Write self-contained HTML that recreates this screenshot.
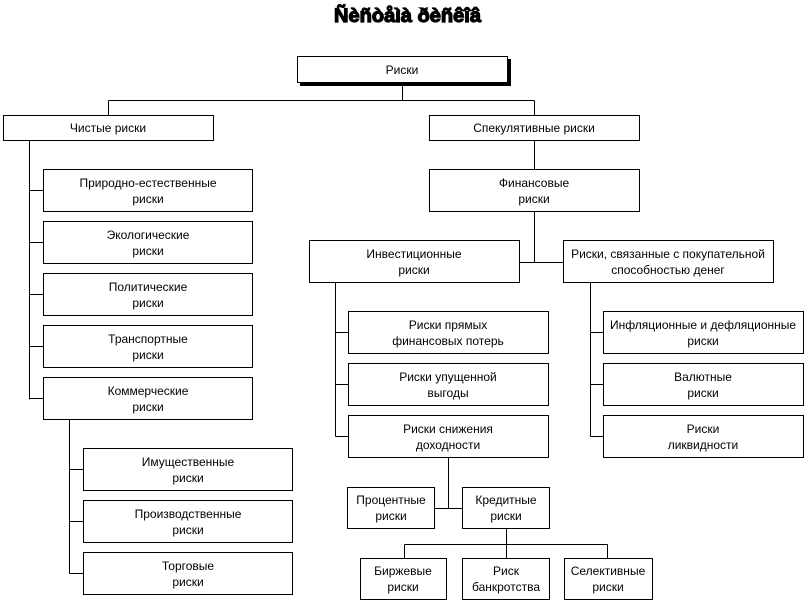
<!DOCTYPE html>
<html><head><meta charset="utf-8"><style>
html,body{margin:0;padding:0;background:#fff;}
svg{display:block;}
text{font-family:"Liberation Sans",Arial,sans-serif;font-size:12px;fill:#000;text-anchor:middle;}
rect{fill:#fff;stroke:#000;stroke-width:1;}
line{stroke:#000;stroke-width:1;}
</style></head><body>
<svg width="806" height="603" viewBox="0 0 806 603" xmlns="http://www.w3.org/2000/svg">
<text x="334" y="22" textLength="147" lengthAdjust="spacingAndGlyphs" style="font-size:19px;font-weight:bold;text-anchor:start;stroke:#000;stroke-width:1.2">Ñèñòåìà ðèñêîâ</text>
<g>
<line x1="402.5" y1="83" x2="402.5" y2="100.5"/>
<line x1="108.5" y1="100.5" x2="534.5" y2="100.5"/>
<line x1="108.5" y1="100.5" x2="108.5" y2="115"/>
<line x1="534.5" y1="100.5" x2="534.5" y2="115"/>
<line x1="29.5" y1="141" x2="29.5" y2="399.5"/>
<line x1="29.5" y1="190.5" x2="43" y2="190.5"/>
<line x1="29.5" y1="242.5" x2="43" y2="242.5"/>
<line x1="29.5" y1="294.5" x2="43" y2="294.5"/>
<line x1="29.5" y1="346.5" x2="43" y2="346.5"/>
<line x1="29.5" y1="398.5" x2="43" y2="398.5"/>
<line x1="69.5" y1="420" x2="69.5" y2="573.5"/>
<line x1="69.5" y1="469.5" x2="83" y2="469.5"/>
<line x1="69.5" y1="521.5" x2="83" y2="521.5"/>
<line x1="69.5" y1="573.5" x2="83" y2="573.5"/>
<line x1="534.5" y1="141" x2="534.5" y2="169"/>
<line x1="534.5" y1="212" x2="534.5" y2="262.5"/>
<line x1="520" y1="262.5" x2="563" y2="262.5"/>
<line x1="335.5" y1="283" x2="335.5" y2="436.5"/>
<line x1="335.5" y1="332.5" x2="348" y2="332.5"/>
<line x1="335.5" y1="384.5" x2="348" y2="384.5"/>
<line x1="335.5" y1="436.5" x2="348" y2="436.5"/>
<line x1="590.5" y1="283" x2="590.5" y2="436.5"/>
<line x1="590.5" y1="332.5" x2="603" y2="332.5"/>
<line x1="590.5" y1="384.5" x2="603" y2="384.5"/>
<line x1="590.5" y1="436.5" x2="603" y2="436.5"/>
<line x1="448.5" y1="458" x2="448.5" y2="508.5"/>
<line x1="434" y1="508.5" x2="462" y2="508.5"/>
<line x1="506.5" y1="529" x2="506.5" y2="544.5"/>
<line x1="404.5" y1="544.5" x2="607.5" y2="544.5"/>
<line x1="404.5" y1="544.5" x2="404.5" y2="558"/>
<line x1="506.5" y1="544.5" x2="506.5" y2="558"/>
<line x1="607.5" y1="544.5" x2="607.5" y2="558"/>
</g>
<rect x="300" y="59" width="211" height="27" style="fill:#000;stroke:none"/>
<rect x="297.5" y="56.5" width="210" height="26"/>
<text x="402" y="74">Риски</text>

<rect x="3.5" y="115.5" width="210" height="25"/><text x="108" y="132">Чистые риски</text>
<rect x="429.5" y="115.5" width="210" height="25"/><text x="534" y="132">Спекулятивные риски</text>
<rect x="429.5" y="169.5" width="210" height="42"/><text x="534" y="187">Финансовые</text><text x="534" y="203">риски</text>

<rect x="43.5" y="169.5" width="209" height="42"/><text x="148" y="187">Природно-естественные</text><text x="148" y="203">риски</text>
<rect x="43.5" y="221.5" width="209" height="42"/><text x="148" y="239">Экологические</text><text x="148" y="255">риски</text>
<rect x="43.5" y="273.5" width="209" height="42"/><text x="148" y="291">Политические</text><text x="148" y="307">риски</text>
<rect x="43.5" y="325.5" width="209" height="42"/><text x="148" y="343">Транспортные</text><text x="148" y="359">риски</text>
<rect x="43.5" y="377.5" width="209" height="42"/><text x="148" y="395">Коммерческие</text><text x="148" y="411">риски</text>

<rect x="83.5" y="448.5" width="209" height="42"/><text x="188" y="466">Имущественные</text><text x="188" y="482">риски</text>
<rect x="83.5" y="500.5" width="209" height="42"/><text x="188" y="518">Производственные</text><text x="188" y="534">риски</text>
<rect x="83.5" y="552.5" width="209" height="42"/><text x="188" y="570">Торговые</text><text x="188" y="586">риски</text>

<rect x="309.5" y="240.5" width="210" height="42"/><text x="414" y="258">Инвестиционные</text><text x="414" y="274">риски</text>
<rect x="563.5" y="240.5" width="210" height="42"/><text x="668" y="258">Риски, связанные с покупательной</text><text x="668" y="274">способностью денег</text>

<rect x="348.5" y="311.5" width="200" height="42"/><text x="448" y="329">Риски прямых</text><text x="448" y="345">финансовых потерь</text>
<rect x="348.5" y="363.5" width="200" height="42"/><text x="448" y="381">Риски упущенной</text><text x="448" y="397">выгоды</text>
<rect x="348.5" y="415.5" width="200" height="42"/><text x="448" y="433">Риски снижения</text><text x="448" y="449">доходности</text>

<rect x="603.5" y="311.5" width="200" height="42"/><text x="703" y="329">Инфляционные и дефляционные</text><text x="703" y="345">риски</text>
<rect x="603.5" y="363.5" width="200" height="42"/><text x="703" y="381">Валютные</text><text x="703" y="397">риски</text>
<rect x="603.5" y="415.5" width="200" height="42"/><text x="703" y="433">Риски</text><text x="703" y="449">ликвидности</text>

<rect x="347.5" y="487.5" width="87" height="41"/><text x="391" y="504">Процентные</text><text x="391" y="520">риски</text>
<rect x="462.5" y="487.5" width="87" height="41"/><text x="506" y="504">Кредитные</text><text x="506" y="520">риски</text>

<rect x="360.5" y="558.5" width="86" height="41"/><text x="403" y="575">Биржевые</text><text x="403" y="591">риски</text>
<rect x="462.5" y="558.5" width="87" height="41"/><text x="506" y="575">Риск</text><text x="506" y="591">банкротства</text>
<rect x="564.5" y="558.5" width="88" height="41"/><text x="608" y="575">Селективные</text><text x="608" y="591">риски</text>
</svg>
</body></html>
